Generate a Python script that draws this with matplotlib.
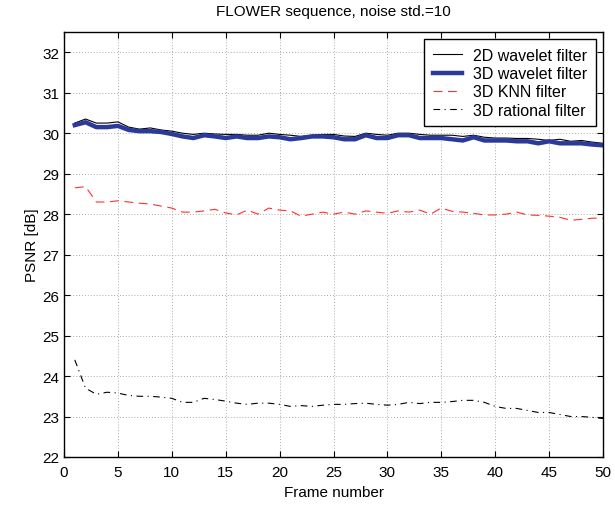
import numpy as np
import matplotlib
matplotlib.use("Agg")
import matplotlib.pyplot as plt

plt.rcParams['font.family'] = ['Liberation Sans', 'DejaVu Sans']

frames = np.arange(1, 51)

wav2d = [30.25, 30.35, 30.25, 30.25, 30.28, 30.15, 30.10, 30.13, 30.08, 30.05,
         30.00, 29.97, 30.00, 29.98, 29.97, 29.97, 29.95, 29.95, 30.00, 29.97,
         29.95, 29.92, 29.95, 29.97, 29.97, 29.93, 29.92, 30.00, 29.97, 29.95,
         30.00, 30.00, 29.97, 29.95, 29.95, 29.95, 29.92, 29.95, 29.90, 29.88,
         29.88, 29.87, 29.87, 29.85, 29.82, 29.85, 29.80, 29.82, 29.78, 29.75]

wav3d = [30.20, 30.27, 30.15, 30.15, 30.18, 30.08, 30.05, 30.05, 30.03, 29.98,
         29.92, 29.88, 29.95, 29.92, 29.88, 29.92, 29.88, 29.88, 29.92, 29.90,
         29.85, 29.88, 29.92, 29.92, 29.90, 29.85, 29.85, 29.95, 29.88, 29.88,
         29.95, 29.95, 29.88, 29.88, 29.88, 29.85, 29.82, 29.90, 29.82, 29.82,
         29.82, 29.80, 29.80, 29.75, 29.80, 29.75, 29.75, 29.75, 29.72, 29.70]

knn3d = [28.65, 28.68, 28.30, 28.30, 28.33, 28.30, 28.27, 28.25, 28.20, 28.15,
         28.05, 28.05, 28.08, 28.12, 28.03, 27.98, 28.10, 28.00, 28.15, 28.10,
         28.08, 27.95, 28.00, 28.05, 28.00, 28.05, 28.00, 28.08, 28.05, 28.02,
         28.08, 28.05, 28.10, 28.00, 28.15, 28.07, 28.05, 28.02, 27.98, 27.98,
         28.00, 28.05, 27.98, 27.97, 27.95, 27.92, 27.85, 27.87, 27.90, 27.90]

rat3d = [24.40, 23.70, 23.55, 23.60, 23.58, 23.52, 23.50, 23.50, 23.48, 23.45,
         23.35, 23.35, 23.45, 23.42, 23.38, 23.33, 23.30, 23.33, 23.33, 23.30,
         23.25, 23.27, 23.25, 23.28, 23.30, 23.30, 23.32, 23.33, 23.30, 23.28,
         23.30, 23.35, 23.32, 23.35, 23.35, 23.37, 23.40, 23.40, 23.35, 23.25,
         23.20, 23.20, 23.15, 23.10, 23.10, 23.05, 23.00, 23.00, 22.98, 22.95]

fig = plt.figure(figsize=(6.15, 5.06), dpi=100)
ax = fig.add_axes([64/615, 48/506, 539/615, 425/506])

ax.plot(frames, wav2d, color='black', lw=0.8, label='2D wavelet filter')
ax.plot(frames, wav3d, color='#2b3a9a', lw=3.2, label='3D wavelet filter')
ax.plot(frames, knn3d, color='#ff3030', lw=0.8, ls=(0, (8, 5)), label='3D KNN filter')
ax.plot(frames, rat3d, color='black', lw=0.8, ls=(0, (6, 4, 1, 4)), label='3D rational filter')

ax.set_xlim(0, 50)
ax.set_ylim(22, 32.5)
ax.set_xticks(np.arange(0, 51, 5))
ax.set_yticks(np.arange(22, 33, 1))
ax.grid(True, ls=(0, (1, 2)), color='#aaaaaa', lw=0.7)
ax.tick_params(direction='in', top=True, right=True, labelsize=11, length=4)
ax.tick_params(axis='x', pad=6)
for s in ax.spines.values():
    s.set_linewidth(1.0)

ax.set_xlabel('Frame number', fontsize=11, labelpad=4)
ax.set_ylabel('PSNR [dB]', fontsize=11, labelpad=2)
ax.set_title('FLOWER sequence, noise std.=10', fontsize=11, pad=12)

leg = ax.legend(loc='upper right', fontsize=11.5, fancybox=False, framealpha=1,
                edgecolor='black', borderaxespad=0.45, handlelength=1.8,
                labelspacing=0.2, borderpad=0.55, handletextpad=0.7)
leg.get_frame().set_linewidth(1.0)

fig.savefig('out.png', dpi=100)
